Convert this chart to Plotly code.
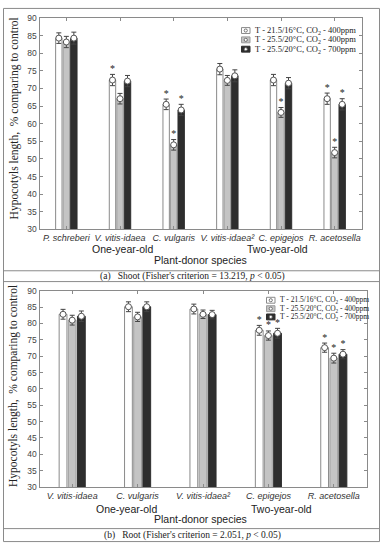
import plotly.graph_objects as go

W, H = 384, 550

# ---------------- data ----------------
series_names = [
    "T - 21.5/16°C, CO<sub>2</sub> - 400ppm",
    "T - 25.5/20°C, CO<sub>2</sub> - 400ppm",
    "T - 25.5/20°C, CO<sub>2</sub> - 700ppm",
]

# (a) Shoot
species_a = ["P. schreberi", "V. vitis-idaea", "C. vulgaris",
             "V. vitis-idaea²", "C. epigejos", "R. acetosella"]
shoot_t215_400 = [84.3, 72.4, 65.5, 75.5, 72.4, 67.1]
shoot_t255_400 = [83.2, 67.1, 54.0, 72.3, 63.2, 51.8]
shoot_t255_700 = [84.3, 72.1, 63.9, 73.6, 71.5, 65.5]
shoot_err_215_400 = [1.5, 1.6, 1.5, 1.6, 1.6, 1.6]
shoot_err_255_400 = [1.6, 1.5, 1.5, 1.4, 1.4, 1.5]
shoot_err_255_700 = [1.7, 1.6, 1.6, 1.7, 1.6, 1.6]
shoot_sig_215_400 = [0, 1, 1, 0, 0, 1]
shoot_sig_255_400 = [0, 0, 1, 0, 1, 1]
shoot_sig_255_700 = [0, 0, 1, 0, 0, 1]

# (b) Root
species_b = ["V. vitis-idaea", "C. vulgaris", "V. vitis-idaea²",
             "C. epigejos", "R. acetosella"]
root_t215_400 = [82.8, 85.1, 84.4, 77.9, 72.6]
root_t255_400 = [81.0, 82.0, 82.8, 76.3, 69.4]
root_t255_700 = [82.2, 85.1, 82.7, 77.0, 70.6]
root_err_215_400 = [1.5, 1.5, 1.5, 1.5, 1.4]
root_err_255_400 = [1.5, 1.4, 1.3, 1.4, 1.5]
root_err_255_700 = [1.6, 1.5, 1.3, 1.5, 1.4]
root_sig_215_400 = [0, 0, 0, 1, 1]
root_sig_255_400 = [0, 0, 0, 1, 1]
root_sig_255_700 = [0, 0, 0, 1, 1]

y_title = "Hypocotyls length,  % comparing to control"
caption_a = "(a)   Shoot (Fisher's criterion = 13.219, <i>p</i> < 0.05)"
caption_b = "(b)   Root (Fisher's criterion = 2.051, <i>p</i> < 0.05)"

# ---------------- style ----------------
fills = ["#ffffff", "#c4c4c4", "#2e2e2e"]
edges = ["#8a8a8a", "#9c9c9c", "#2e2e2e"]
SERIF = "Liberation Serif"
SANS = "Liberation Sans"


def px(x):
    return x / W


def py(y):
    return 1 - y / H


fig = go.Figure()

panels = [
    ("x", "y", species_a,
     [shoot_t215_400, shoot_t255_400, shoot_t255_700],
     [shoot_err_215_400, shoot_err_255_400, shoot_err_255_700],
     [shoot_sig_215_400, shoot_sig_255_400, shoot_sig_255_700]),
    ("x2", "y2", species_b,
     [root_t215_400, root_t255_400, root_t255_700],
     [root_err_215_400, root_err_255_400, root_err_255_700],
     [root_sig_215_400, root_sig_255_400, root_sig_255_700]),
]

for xa, ya, cats, vals, errs, sigs in panels:
    for i in range(3):
        fig.add_trace(go.Bar(
            x=cats, y=vals[i], xaxis=xa, yaxis=ya, offsetgroup=str(i),
            marker=dict(color=fills[i], line=dict(color=edges[i], width=1)),
            error_y=dict(type="data", array=errs[i], color="#444444",
                         thickness=1, width=2.5),
            showlegend=False, hoverinfo="skip"))
    for i in range(3):
        fig.add_trace(go.Scatter(
            x=cats, y=vals[i], xaxis=xa, yaxis=ya, offsetgroup=str(i),
            mode="markers",
            marker=dict(symbol="circle", size=6, color="white",
                        line=dict(color="#555555", width=1)),
            showlegend=False, hoverinfo="skip"))
    for i in range(3):
        fig.add_trace(go.Scatter(
            x=cats, y=[v + e for v, e in zip(vals[i], errs[i])],
            xaxis=xa, yaxis=ya, offsetgroup=str(i),
            mode="text", text=["*" if s else "" for s in sigs[i]],
            textposition="top center",
            textfont=dict(family=SERIF, size=10, color="#222222"),
            showlegend=False, hoverinfo="skip"))


def xaxis(cats, dom):
    return dict(domain=dom, type="category",
                tickvals=cats, ticktext=[f"<i>{c}</i>" for c in cats],
                tickfont=dict(family=SANS, size=9, color="#333333"),
                showline=True, linecolor="#8a8a8a", linewidth=1,
                mirror="ticks", ticks="inside", ticklen=3,
                tickcolor="#8a8a8a", showgrid=False, zeroline=False,
                fixedrange=True)


def yaxis(dom):
    return dict(domain=dom, range=[30, 90], dtick=5,
                tickfont=dict(family=SANS, size=8.5, color="#444444"),
                showline=True, linecolor="#8a8a8a", linewidth=1,
                mirror="ticks", ticks="inside", ticklen=3,
                tickcolor="#8a8a8a", showgrid=False, zeroline=False,
                fixedrange=True)


fig.update_layout(
    width=W, height=H, autosize=False,
    margin=dict(l=0, r=0, t=0, b=0),
    paper_bgcolor="white", plot_bgcolor="white",
    barmode="group", bargap=0.58, bargroupgap=0.15,
    scattermode="group", scattergap=0.58,
    xaxis=xaxis(species_a, [px(39.5), px(361.5)]),
    yaxis=dict(yaxis([py(228.5), py(13.3)]), anchor="x"),
    xaxis2=dict(xaxis(species_b, [px(39.5), px(366.5)]), anchor="y2"),
    yaxis2=dict(yaxis([py(491), py(291)]), anchor="x2"),
    showlegend=False,
)

annotations = []
shapes = []

# outer frame and caption separators
line_style = dict(color="#8a8a8a", width=1)
shapes.append(dict(type="rect", xref="paper", yref="paper",
                   x0=px(3.5), x1=px(379.5), y0=py(546.5), y1=py(3.5),
                   line=line_style))
for yy in [270.7, 281.7, 533.3]:
    shapes.append(dict(type="line", xref="paper", yref="paper",
                       x0=px(3.5), x1=px(379.5), y0=py(yy), y1=py(yy),
                       line=line_style))

# y titles
for yc in [115.5, 388]:
    annotations.append(dict(text=y_title, xref="paper", yref="paper",
                            x=px(14), y=py(yc), xanchor="center",
                            yanchor="middle", showarrow=False,
                            textangle=-90, font=dict(family=SERIF, size=11.5,
                                                     color="#222222")))

# group labels / axis titles
for txt, x, y in [("One-year-old", 122, 249), ("Two-year-old", 277.5, 249),
                  ("Plant-donor species", 200, 260),
                  ("One-year-old", 126, 513), ("Two-year-old", 281, 513),
                  ("Plant-donor species", 200, 524)]:
    annotations.append(dict(text=txt, xref="paper", yref="paper",
                            x=px(x), y=py(y), xanchor="center",
                            yanchor="middle", showarrow=False,
                            font=dict(family=SANS, size=10.5, color="#222222")))

# captions
for txt, y in [(caption_a, 276.2), (caption_b, 540)]:
    annotations.append(dict(text=txt, xref="paper", yref="paper",
                            x=px(192), y=py(y), xanchor="center",
                            yanchor="middle", showarrow=False,
                            font=dict(family=SERIF, size=9.5, color="#222222")))

# legends (drawn manually for compact row spacing)
legend_specs = [
    (241.5, [26, 35.5, 45], 8.5, 6, 8.5),
    (266.5, [300.7, 309.3, 317.7], 8.5, 6, 7.5),
]
for lx, rows, bw, bh, fs in legend_specs:
    for i, ry in enumerate(rows):
        shapes.append(dict(type="rect", xref="paper", yref="paper",
                           x0=px(lx), x1=px(lx + bw),
                           y0=py(ry + bh / 2), y1=py(ry - bh / 2),
                           fillcolor=fills[i], line=dict(color=edges[i], width=1)))
        shapes.append(dict(type="circle", xref="paper", yref="paper",
                           x0=px(lx + bw / 2 - 1.6), x1=px(lx + bw / 2 + 1.6),
                           y0=py(ry + 1.6), y1=py(ry - 1.6),
                           fillcolor="white", line=dict(color="#555555", width=0.8)))
        annotations.append(dict(text=series_names[i], xref="paper", yref="paper",
                                x=px(lx + bw + 3), y=py(ry), xanchor="left",
                                yanchor="middle", showarrow=False,
                                font=dict(family=SERIF, size=fs, color="#222222")))

fig.update_layout(annotations=annotations, shapes=shapes)
fig.write_html("out.html",
               config={"displayModeBar": False},
               post_script="document.body.style.margin='0';"
                           "document.body.style.overflow='hidden';")
